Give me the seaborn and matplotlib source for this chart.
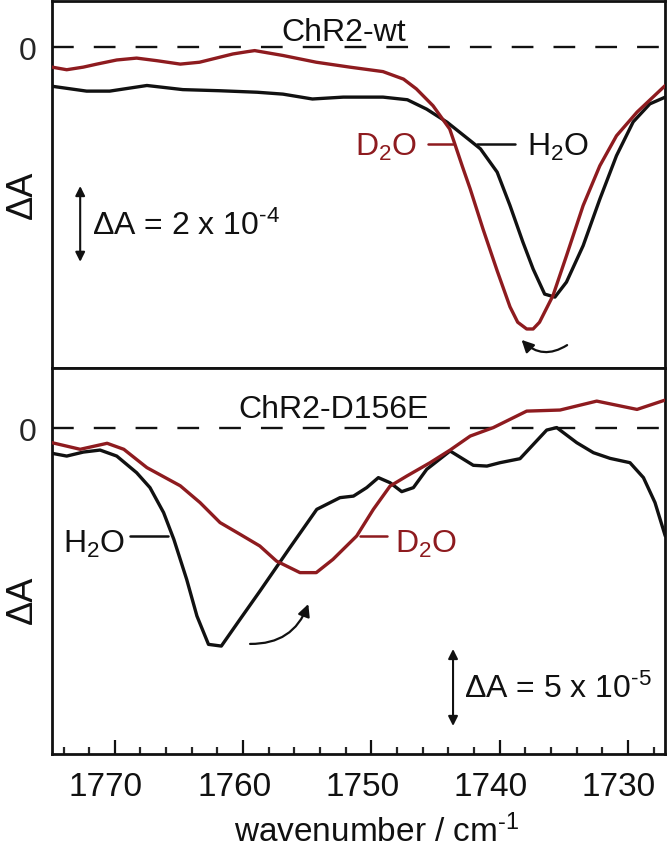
import numpy as np
import pandas as pd
import matplotlib
matplotlib.use("Agg")
import matplotlib.pyplot as plt
import matplotlib.transforms as mtransforms
from matplotlib.patches import FancyArrowPatch
from matplotlib.ticker import MultipleLocator
import seaborn as sns

# ---------------- data ----------------
# Top panel: ChR2-wt, Delta A in units of 1e-4
wt_h2o_wn = [1774.9, 1772.2, 1770.4, 1767.5, 1764.7, 1761.8, 1758.9, 1756.9, 1754.6,
             1752.2, 1749.1, 1747.2, 1745.7, 1744.1, 1742.3, 1741.5, 1740.2, 1739.2,
             1738.2, 1737.4, 1736.5, 1735.7, 1734.8, 1733.5, 1732.2, 1730.9, 1729.6,
             1728.3, 1727.1]
wt_h2o_dA = [-1.04, -1.17, -1.17, -1.02, -1.13, -1.16, -1.20, -1.25, -1.38,
             -1.33, -1.33, -1.40, -1.65, -2.00, -2.49, -2.71, -3.33, -4.22,
             -5.19, -5.91, -6.58, -6.66, -6.26, -5.29, -4.05, -2.89, -1.99,
             -1.51, -1.33]

wt_d2o_wn = [1774.9, 1773.75, 1772.45, 1771.4, 1769.85, 1768.3, 1766.7, 1764.9, 1763.4,
             1762.1, 1760.8, 1759.7, 1759.1, 1756.9, 1754.3, 1751.7, 1749.1, 1747.5,
             1746.5, 1745.2, 1743.9, 1743.5, 1742.9, 1742.3, 1741.3, 1740.2, 1739.2,
             1738.6, 1737.9, 1737.4, 1736.9, 1735.85, 1734.8, 1733.5, 1732.2, 1730.9,
             1729.3, 1727.1]
wt_d2o_dA = [-0.53, -0.60, -0.53, -0.45, -0.34, -0.29, -0.36, -0.45, -0.40,
             -0.29, -0.18, -0.12, -0.09, -0.22, -0.40, -0.53, -0.65, -0.85,
             -1.11, -1.56, -2.18, -2.58, -3.19, -3.78, -4.85, -5.96, -6.92,
             -7.33, -7.51, -7.51, -7.33, -6.62, -5.56, -4.22, -3.16, -2.36,
             -1.73, -1.02]

# Bottom panel: ChR2-D156E, Delta A in units of 1e-5
d156e_h2o_wn = [1774.9, 1773.75, 1772.45, 1771.15, 1769.85, 1768.3, 1767.26, 1766.2, 1765.4,
                1764.4, 1763.6, 1762.7, 1761.7, 1760.24, 1758.7, 1756.34, 1754.26, 1752.45,
                1751.4, 1750.37, 1749.46, 1748.55, 1747.64, 1746.73, 1745.69, 1743.87,
                1742.06, 1741.0, 1739.98, 1738.42, 1736.34, 1735.56, 1734.0, 1732.7,
                1731.4, 1729.85, 1728.8, 1727.9, 1727.1]
d156e_h2o_dA = [-1.62, -1.80, -1.54, -1.41, -1.80, -2.88, -3.85, -5.47, -7.21,
                -9.81, -12.19, -14.03, -14.14, -12.40, -10.58, -7.73, -5.26, -4.50,
                -4.40, -3.85, -3.20, -3.53, -4.11, -3.85, -2.66, -1.47,
                -2.40, -2.45, -2.23, -1.97, -0.11, 0.05, -0.93, -1.58,
                -1.95, -2.23, -3.20, -4.82, -6.99]

d156e_d2o_wn = [1774.9, 1772.7, 1770.6, 1769.3, 1767.5, 1764.9, 1763.36, 1761.8, 1760.24,
                1758.7, 1757.4, 1755.57, 1754.3, 1753.0, 1751.15, 1749.85, 1748.55,
                1747.25, 1745.43, 1743.87, 1742.3, 1740.5, 1737.9, 1735.3, 1732.44,
                1729.3, 1727.1]
d156e_d2o_dA = [-0.93, -1.36, -0.97, -1.36, -2.55, -3.73, -4.82, -6.12, -6.88,
                -7.64, -8.62, -9.37, -9.37, -8.51, -6.99, -5.26, -3.75,
                -3.10, -2.23, -1.41, -0.50, 0.05, 1.12, 1.19, 1.77,
                1.23, 1.84]

x_major_ticks = [1770, 1760, 1750, 1740, 1730]
x_tick_labels = ["1770", "1760", "1750", "1740", "1730"]

# ---------------- style ----------------
sns.set_theme(style="white")
plt.rcParams["font.family"] = ["Liberation Sans", "DejaVu Sans"]
plt.rcParams["mathtext.fontset"] = "custom"
plt.rcParams["mathtext.rm"] = "Liberation Sans"
plt.rcParams["mathtext.it"] = "Liberation Sans:italic"
plt.rcParams["mathtext.bf"] = "Liberation Sans:bold"
plt.rcParams["mathtext.default"] = "regular"

RED = "#8e1b1f"
BLACK = "#111111"

fig = plt.figure(figsize=(6.68, 8.54), dpi=100)
L, W = 51.7 / 668, (665 - 51.7) / 668
ax1 = fig.add_axes([L, 1 - 369 / 854, W, (369 - 1.7) / 854])
ax2 = fig.add_axes([L, 1 - 755 / 854, W, (755 - 369) / 854], sharex=ax1)

df_wt_h = pd.DataFrame({"wn": wt_h2o_wn, "dA": wt_h2o_dA})
df_wt_d = pd.DataFrame({"wn": wt_d2o_wn, "dA": wt_d2o_dA})
df_e_h = pd.DataFrame({"wn": d156e_h2o_wn, "dA": d156e_h2o_dA})
df_e_d = pd.DataFrame({"wn": d156e_d2o_wn, "dA": d156e_d2o_dA})

LW = 2.4
for ax, dh, dd in [(ax1, df_wt_h, df_wt_d), (ax2, df_e_h, df_e_d)]:
    ax.axhline(0, color=BLACK, lw=1.7, ls=(0, (9.2, 8.5)), zorder=1)
    sns.lineplot(data=dh, x="wn", y="dA", ax=ax, color=BLACK, lw=LW,
                 sort=False, estimator=None, legend=False, zorder=3)
    sns.lineplot(data=dd, x="wn", y="dA", ax=ax, color=RED, lw=LW,
                 sort=False, estimator=None, legend=False, zorder=4)
    for line in ax.get_lines():
        line.set_solid_joinstyle("round")
    for sp in ax.spines.values():
        sp.set_visible(True)
        sp.set_color(BLACK)
        sp.set_linewidth(2.0)
    ax.set_xlabel("")
    ax.set_ylabel("")
    ax.set_yticks([0])
    ax.set_yticklabels(["0"])
    ax.tick_params(axis="y", length=0, pad=11, labelsize=23)

ax2.set_xlim(1774.92, 1727.12)
ax1.set_ylim(-8.55, 1.24)
ax2.set_ylim(-21.15, 3.92)

ax1.tick_params(axis="x", bottom=False, labelbottom=False)
ax2.set_xticks(x_major_ticks)
ax2.set_xticklabels(x_tick_labels)
ax2.xaxis.set_minor_locator(MultipleLocator(2))
ax2.tick_params(axis="x", which="major", direction="in", length=10, width=1.6,
                bottom=True, pad=12, labelsize=24, colors=BLACK)
ax2.tick_params(axis="x", which="minor", direction="in", length=5, width=1.6,
                bottom=True)
offset = mtransforms.ScaledTranslation(-0.09, 0, fig.dpi_scale_trans)
for lab in ax2.get_xticklabels():
    lab.set_transform(lab.get_transform() + offset)

# Y labels
ax1.text(-0.048, 0.474, "ΔA", rotation=90, ha="center", va="center",
         transform=ax1.transAxes, fontsize=26, color=BLACK)
ax2.text(-0.048, 0.402, "ΔA", rotation=90, ha="center", va="center",
         transform=ax2.transAxes, fontsize=26, color=BLACK)

fig.text(377 / 668, 1 - 842 / 854, r"wavenumber / cm$^{\text{-}1}$", ha="center",
         va="baseline", fontsize=24, color=BLACK)

# Panel titles
ax1.text(1752.2, 0.18, "ChR2-wt", ha="center", va="baseline", fontsize=23, color=BLACK)
ax2.text(1752.95, 0.71, "ChR2-D156E", ha="center", va="baseline", fontsize=23, color=BLACK)

# Curve labels (top)
ax1.text(1746.45, -2.87, "D$_2$O", ha="right", va="baseline", fontsize=23, color=RED)
ax1.plot([1745.6, 1743.64], [-2.58, -2.58], color=RED, lw=1.8, zorder=2)
ax1.text(1737.87, -2.87, "H$_2$O", ha="left", va="baseline", fontsize=23, color=BLACK)
ax1.plot([1741.77, 1738.8], [-2.58, -2.58], color=BLACK, lw=1.8, zorder=2)

# Curve labels (bottom)
ax2.text(1774.04, -8.05, "H$_2$O", ha="left", va="baseline", fontsize=23, color=BLACK)
ax2.plot([1768.8, 1765.85], [-6.97, -6.97], color=BLACK, lw=1.8, zorder=2)
ax2.text(1748.16, -8.05, "D$_2$O", ha="left", va="baseline", fontsize=23, color=RED)
ax2.plot([1750.9, 1748.8], [-6.97, -6.97], color=RED, lw=1.8, zorder=2)

# Scale bars
ax1.annotate("", xy=(1772.7, -3.70), xytext=(1772.7, -5.72),
             arrowprops=dict(arrowstyle="<|-|>", lw=1.5, color=BLACK,
                             mutation_scale=14, shrinkA=0, shrinkB=0))
ax1.text(1771.8, -4.98, r"ΔA = 2 x 10$^{\text{-}4}$", ha="left", va="baseline",
         fontsize=23, color=BLACK)
ax2.annotate("", xy=(1743.64, -14.33), xytext=(1743.64, -19.33),
             arrowprops=dict(arrowstyle="<|-|>", lw=1.5, color=BLACK,
                             mutation_scale=14, shrinkA=0, shrinkB=0))
ax2.text(1742.78, -17.45, r"ΔA = 5 x 10$^{\text{-}5}$", ha="left", va="baseline",
         fontsize=23, color=BLACK)

# Curved shift arrows
arr1 = FancyArrowPatch((1734.75, -7.94), (1738.3, -7.80),
                       connectionstyle="arc3,rad=-0.4", arrowstyle="-|>",
                       mutation_scale=18, lw=1.6, color=BLACK,
                       shrinkA=0, shrinkB=0, zorder=5)
ax1.add_patch(arr1)
arr2 = FancyArrowPatch((1759.46, -14.0), (1754.92, -11.41),
                       connectionstyle="arc3,rad=0.35", arrowstyle="-|>",
                       mutation_scale=18, lw=1.6, color=BLACK,
                       shrinkA=0, shrinkB=0, zorder=5)
ax2.add_patch(arr2)

fig.savefig("out.png", dpi=100)
